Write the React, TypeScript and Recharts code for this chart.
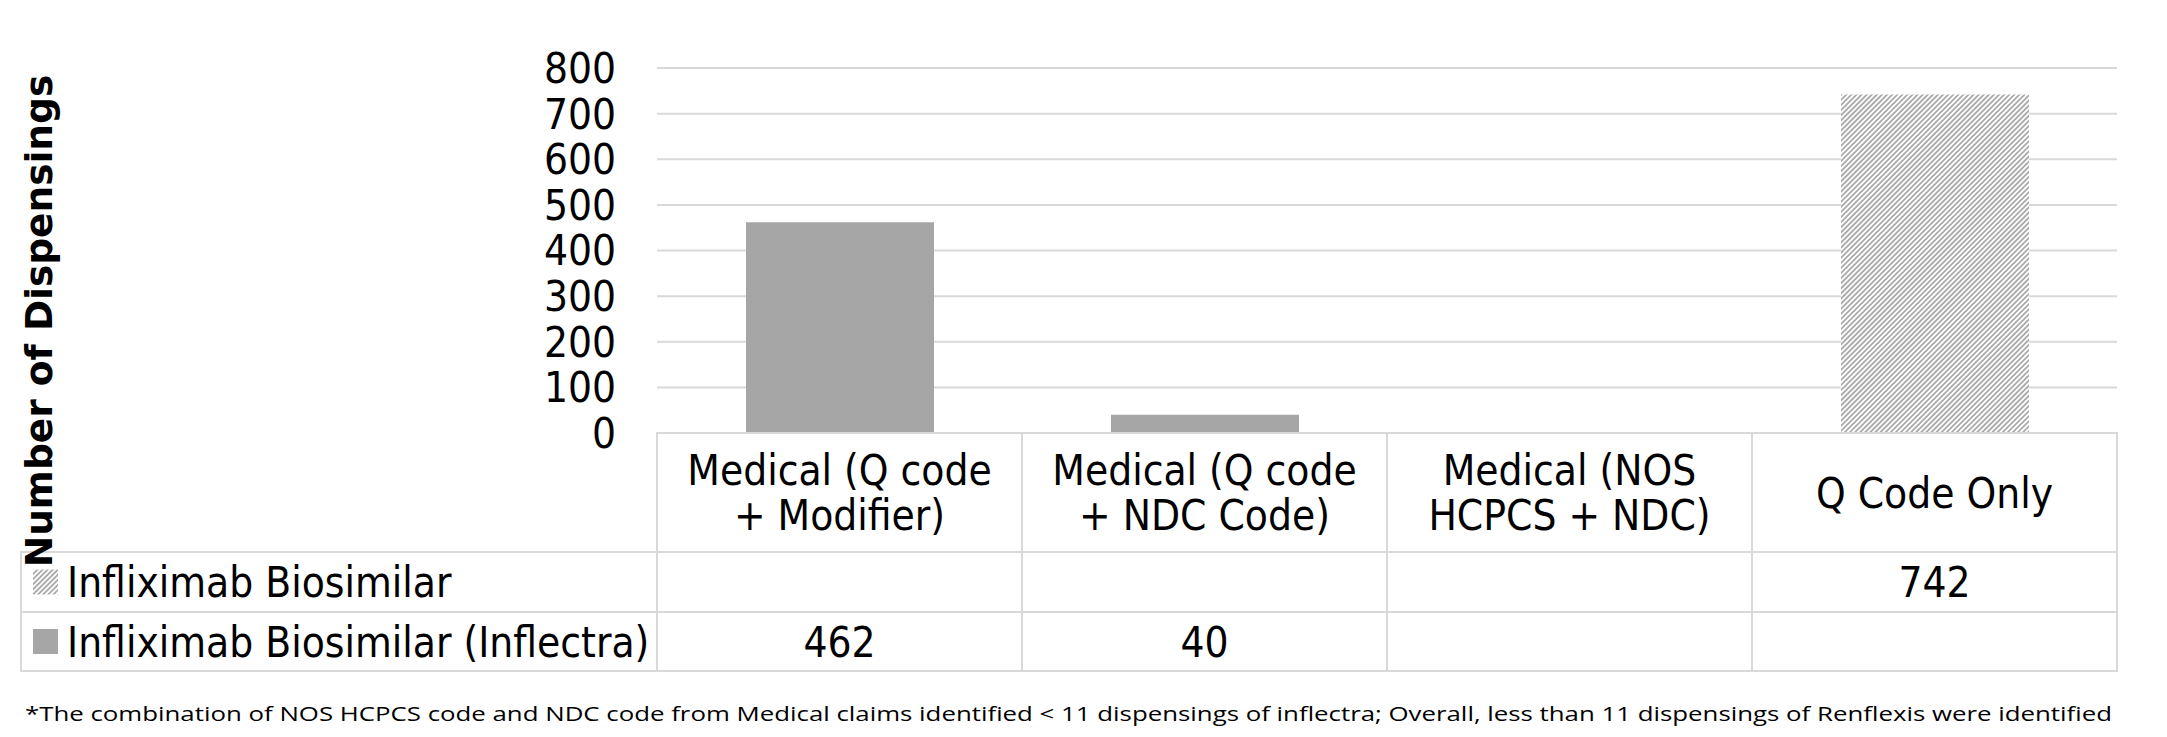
import React from "react";
import { BarChart, Bar, XAxis, YAxis, CartesianGrid } from "recharts";

// ---- data ----
const categories = [
  "Medical (Q code + Modifier)",
  "Medical (Q code + NDC Code)",
  "Medical (NOS HCPCS + NDC)",
  "Q Code Only",
];
const categoryLines = [
  ["Medical (Q code", "+ Modifier)"],
  ["Medical (Q code", "+ NDC Code)"],
  ["Medical (NOS", "HCPCS + NDC)"],
  ["Q Code Only"],
];
const seriesNames = ["Infliximab Biosimilar", "Infliximab Biosimilar (Inflectra)"];
const biosimilarValues: (number | null)[] = [null, null, null, 742];
const inflectraValues: (number | null)[] = [462, 40, null, null];
const yTicks = [0, 100, 200, 300, 400, 500, 600, 700, 800];
const yAxisTitle = "Number of Dispensings";
const footnote =
  "*The combination of NOS HCPCS code and NDC code from Medical claims identified < 11 dispensings of inflectra; Overall, less than 11 dispensings of Renflexis were identified";

const data = categories.map((c, i) => ({
  category: c,
  biosimilar: biosimilarValues[i],
  inflectra: inflectraValues[i],
}));

// ---- layout ----
const W = 2167;
const H = 737;
const PLOT_LEFT = 657;
const PLOT_RIGHT = 2117;
const PLOT_TOP = 68;
const PLOT_BOTTOM = 433;
const COL_W = (PLOT_RIGHT - PLOT_LEFT) / categories.length;
const HEADER_BOTTOM = 552;
const ROW1_BOTTOM = 612;
const ROW2_BOTTOM = 671;
const TABLE_LEFT = 21;
const GRID = "#d9d9d9";
const BAR_GRAY = "#a6a6a6";
const FONT = "'DejaVu Sans Condensed', 'DejaVu Sans', sans-serif";
const FS = 42;
const X_AXIS_H = 240;

const HatchDefs = ({ id }: { id: string }) => (
  <defs>
    <pattern
      id={id}
      width={3.6}
      height={3.6}
      patternUnits="userSpaceOnUse"
      patternTransform="rotate(45)"
    >
      <rect width={3.6} height={3.6} fill="#ffffff" />
      <line x1={0.9} y1={0} x2={0.9} y2={3.6} stroke="#999999" strokeWidth={1.5} />
    </pattern>
  </defs>
);

const TableTick = (props: any) => {
  const { x, y, payload } = props;
  const i: number = payload?.index ?? props.index ?? 0;
  const left = x - COL_W / 2;
  const lines = categoryLines[i];
  const headerCenter = (y + HEADER_BOTTOM) / 2;
  const lineGap = 45;
  const firstCenter = headerCenter - ((lines.length - 1) * lineGap) / 2;
  const row1Center = (HEADER_BOTTOM + ROW1_BOTTOM) / 2;
  const row2Center = (ROW1_BOTTOM + ROW2_BOTTOM) / 2;
  const b = biosimilarValues[i];
  const f = inflectraValues[i];
  return (
    <g>
      <rect x={left} y={y} width={COL_W} height={HEADER_BOTTOM - y} fill="none" stroke={GRID} strokeWidth={2} />
      <rect x={left} y={HEADER_BOTTOM} width={COL_W} height={ROW1_BOTTOM - HEADER_BOTTOM} fill="none" stroke={GRID} strokeWidth={2} />
      <rect x={left} y={ROW1_BOTTOM} width={COL_W} height={ROW2_BOTTOM - ROW1_BOTTOM} fill="none" stroke={GRID} strokeWidth={2} />
      {lines.map((ln, k) => (
        <text
          key={k}
          x={x}
          y={firstCenter + k * lineGap + 15}
          textAnchor="middle"
          fontFamily={FONT}
          fontSize={FS}
          fill="#000"
        >
          {ln}
        </text>
      ))}
      {b != null && (
        <text x={x} y={row1Center + 15} textAnchor="middle" fontFamily={FONT} fontSize={FS} fill="#000">
          {b}
        </text>
      )}
      {f != null && (
        <text x={x} y={row2Center + 15} textAnchor="middle" fontFamily={FONT} fontSize={FS} fill="#000">
          {f}
        </text>
      )}
    </g>
  );
};

export default function App() {
  const row1Center = (HEADER_BOTTOM + ROW1_BOTTOM) / 2;
  const row2Center = (ROW1_BOTTOM + ROW2_BOTTOM) / 2;
  const legendFills = ["url(#hatchLegend)", BAR_GRAY];
  const rowCenters = [row1Center, row2Center];
  const rowTops = [HEADER_BOTTOM, ROW1_BOTTOM];
  const rowBottoms = [ROW1_BOTTOM, ROW2_BOTTOM];
  return (
    <div style={{ position: "absolute", left: 0, top: 0, width: W, height: H, background: "#fff" }}>
      <BarChart
        width={W}
        height={H}
        data={data}
        margin={{ top: PLOT_TOP, right: W - PLOT_RIGHT, bottom: H - PLOT_BOTTOM - X_AXIS_H, left: PLOT_LEFT - 80 }}
      >
        <HatchDefs id="hatchBar" />
        <CartesianGrid horizontal vertical={false} stroke={GRID} strokeWidth={2} />
        <XAxis
          dataKey="category"
          axisLine={false}
          tickLine={false}
          tickSize={0}
          tickMargin={0}
          interval={0}
          height={X_AXIS_H}
          tick={<TableTick />}
        />
        <YAxis
          width={80}
          domain={[0, 800]}
          ticks={yTicks}
          interval={0}
          axisLine={false}
          tickLine={false}
          tickSize={0}
          tickMargin={41}
          tick={{ fontFamily: FONT, fontSize: FS, fill: "#000" }}
        />
        <Bar dataKey="biosimilar" stackId="s" fill="url(#hatchBar)" barSize={188} isAnimationActive={false} />
        <Bar dataKey="inflectra" stackId="s" fill={BAR_GRAY} barSize={188} isAnimationActive={false} />
      </BarChart>
      <svg
        width={W}
        height={H}
        style={{ position: "absolute", left: 0, top: 0, pointerEvents: "none" }}
      >
        <HatchDefs id="hatchLegend" />
        {seriesNames.map((name, r) => (
          <g key={name}>
            <rect
              x={TABLE_LEFT}
              y={rowTops[r]}
              width={PLOT_LEFT - TABLE_LEFT}
              height={rowBottoms[r] - rowTops[r]}
              fill="none"
              stroke={GRID}
              strokeWidth={2}
            />
            <rect x={33} y={rowCenters[r] - 12.5} width={25} height={25} fill={legendFills[r]} />
            <text x={67} y={rowCenters[r] + 15} fontFamily={FONT} fontSize={FS} fill="#000">
              {name}
            </text>
          </g>
        ))}
        <text
          transform={`translate(39, 321) rotate(-90)`}
          textAnchor="middle"
          dominantBaseline="central"
          fontFamily="'DejaVu Sans', sans-serif"
          fontWeight="bold"
          fontSize={37.5}
          fill="#000"
        >
          {yAxisTitle}
        </text>
        <text
          x={25}
          y={721}
          fontFamily="'Open Sans', sans-serif"
          fontSize={20}
          textLength={2087}
          lengthAdjust="spacingAndGlyphs"
          fill="#000"
        >
          {footnote}
        </text>
      </svg>
    </div>
  );
}
